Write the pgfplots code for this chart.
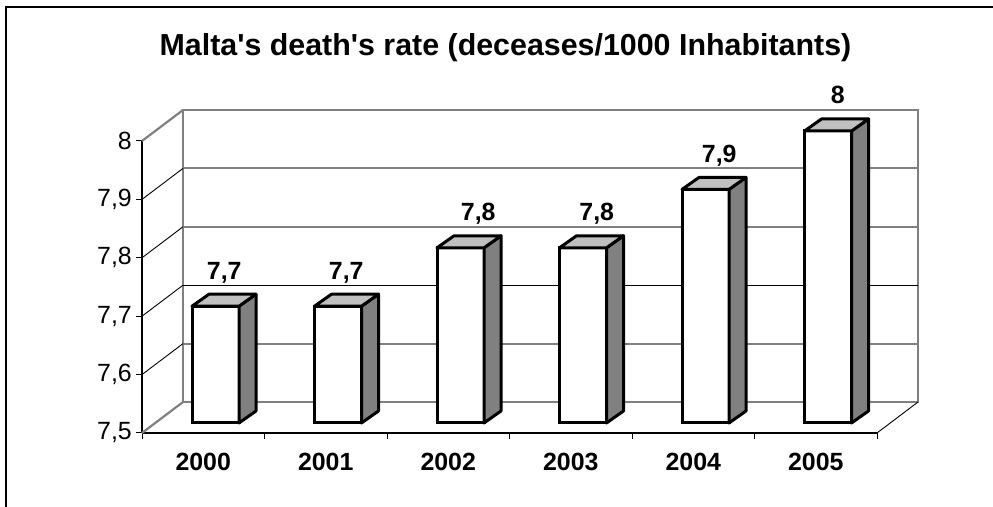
\documentclass[border=0pt]{standalone}
\usepackage{pgfplots}
\usepackage{pgfplotstable}
\pgfplotsset{compat=1.18}
\usepackage{fontspec}
\setmainfont{Liberation Sans}
\definecolor{wallgray}{HTML}{808080}
\definecolor{topgray}{HTML}{C0C0C0}
\definecolor{sidegray}{HTML}{808080}
% x = category position, v = death rate, lx = label offset (bp)
\pgfplotstableread{
x v lx
0.5 7.7 21
1.5 7.7 20.5
2.5 7.8 30
3.5 7.8 26
4.5 7.9 26
5.5 8 22
}\ratedata
\begin{document}
\begin{tikzpicture}[x=1bp,y=1bp]
\useasboundingbox (0,0) rectangle (993,507);
\draw[black, line width=1.2bp] (6,0) -- (6,500) -- (993,500);
\node[font=\bfseries\fontsize{30.5}{36}\selectfont, anchor=base, inner sep=0pt] at (505.5,451) {Malta\textquotesingle s death\textquotesingle s rate (deceases/1000 Inhabitants)};
\begin{axis}[
  at={(142bp,74bp)}, anchor=south west,
  scale only axis, width=735bp, height=292bp,
  xmin=0, xmax=6, ymin=7.5, ymax=8,
  clip=false,
  axis x line*=bottom, axis y line*=left,
  axis line style={-, black, line width=1.2bp},
  ytick={7.5,7.6,7.7,7.8,7.9,8},
  yticklabel style={font=\fontsize{25}{30}\selectfont, anchor=east, inner sep=0pt, xshift=-4bp},
  xtick={0.5,1.5,2.5,3.5,4.5,5.5},
  xticklabels={2000,2001,2002,2003,2004,2005},
  xticklabel style={font=\bfseries\fontsize{25}{30}\selectfont, anchor=north, inner sep=0pt, yshift=-14bp},
  minor xtick={0,1,2,3,4,5,6},
  major x tick style={draw=none},
  tick style={black, line width=1bp},
  major tick length=6bp, minor tick length=6bp,
  tick align=outside,
  /pgf/number format/use comma,
  /pgf/number format/fixed,
  /pgf/number format/precision=1,
  /pgf/number format/assume math mode=true,
]
% back wall
\draw[wallgray, line width=2.2bp] ([shift={(41bp,31bp)}]axis cs:0,7.5) rectangle ([shift={(41bp,31bp)}]axis cs:6,8);
\pgfplotsinvokeforeach{7.6,7.8,7.9}{
  \draw[wallgray, line width=2bp] ([shift={(41bp,31bp)}]axis cs:0,#1) -- ([shift={(41bp,31bp)}]axis cs:6,#1);
}
\draw[black, line width=0.9bp] ([shift={(41bp,31bp)}]axis cs:0,7.7) -- ([shift={(41bp,31bp)}]axis cs:6,7.7);
% left wall
\pgfplotsinvokeforeach{7.6,7.7,7.8,7.9}{
  \draw[black, line width=0.9bp] (axis cs:0,#1) -- ([shift={(41bp,31bp)}]axis cs:0,#1);
}
\draw[wallgray, line width=2.2bp] (axis cs:0,8) -- ([shift={(41bp,31bp)}]axis cs:0,8);
\draw[wallgray, line width=2.2bp] (axis cs:0,7.5) -- ([shift={(41bp,31bp)}]axis cs:0,7.5);
% floor right edge
\draw[black, line width=0.9bp] (axis cs:6,7.5) -- ([shift={(41bp,31bp)}]axis cs:6,7.5);
% top and side faces of the bars (drawn at each data point)
\addplot[scatter, only marks, mark=*, mark size=0pt,
  mark options={draw=none, fill=none},
  scatter/use mapped color={draw=none, fill=none},
  visualization depends on={\thisrow{v} \as \ry},
  scatter/@pre marker code/.code={%
    \pgfmathsetmacro{\hh}{(\ry-7.5)*584}%
    \pgfmathsetmacro{\yb}{10-\hh}%
    \pgfmathsetmacro{\yc}{22-\hh}%
    \begin{scope}
    \filldraw[fill=sidegray, draw=black, line width=3bp, line join=round] (35.75bp,10bp) -- (52.75bp,22bp) -- (52.75bp,\yc bp) -- (35.75bp,\yb bp) -- cycle;
    \filldraw[fill=topgray, draw=black, line width=3bp, line join=round] (-11.25bp,10bp) -- (35.75bp,10bp) -- (52.75bp,22bp) -- (5.75bp,22bp) -- cycle;
    \end{scope}
  },
  scatter/@post marker code/.code={},
] table[x=x, y=v] {\ratedata};
% front faces of the bars
\addplot[ybar, bar width=47bp, bar shift=12.25bp, yshift=10bp, fill=white, draw=black, line width=3bp]
  table[x=x, y=v] {\ratedata};
% value labels
\addplot[draw=none, mark=none, nodes near coords,
  visualization depends on={\thisrow{lx} \as \labx},
  every node near coord/.append style={font=\bfseries\fontsize{25}{30}\selectfont, anchor=base, inner sep=0pt, xshift=\labx bp, yshift=37bp, text=black}]
  table[x=x, y=v] {\ratedata};
\end{axis}
\end{tikzpicture}
\end{document}
